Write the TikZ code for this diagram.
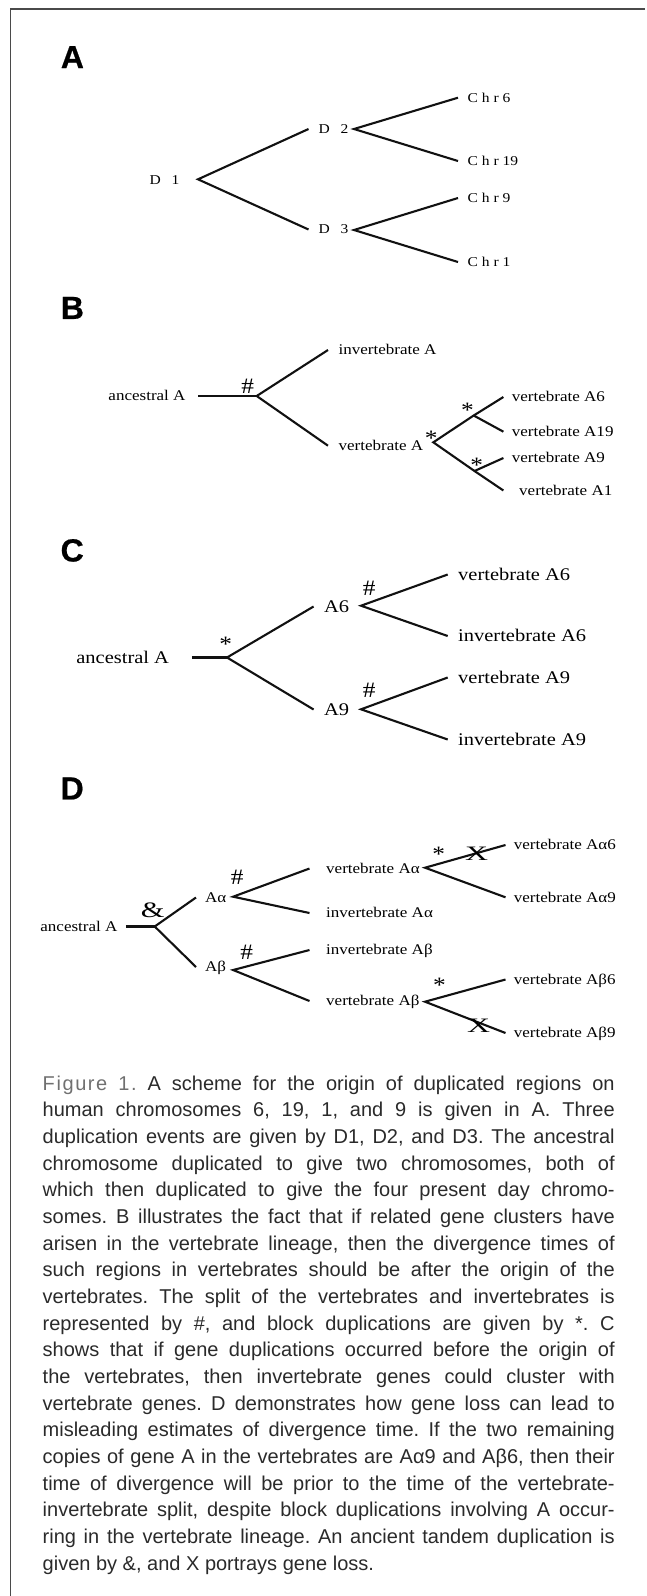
\documentclass[tikz,border=0pt]{standalone}
\usepackage{graphicx}
\usepackage{fontspec}
\setmainfont{Liberation Serif}
\newfontfamily\lblfont{Liberation Serif}[FakeStretch=1.15]
\newfontfamily\capfont{Liberation Sans}
\newfontfamily\figfont{Liberation Sans}[LetterSpace=8]
\newfontfamily\headfont{Liberation Sans}[BoldFeatures={FakeBold=0.6}]
\definecolor{Frame}{HTML}{4A4A4A}
\definecolor{Ink}{HTML}{111111}
\definecolor{CapGray}{HTML}{2A2A2A}
\definecolor{FigGray}{HTML}{707070}

\newcommand{\capline}[1]{\hbox to 572pt{#1}\par}

\tikzset{
  frame/.style={Frame,line width=1.4pt},
  branch/.style={Ink,line width=2.1pt},
  panel/.style={font=\headfont\bfseries\fontsize{32}{34}\selectfont,inner sep=0pt,text height=22.9pt,text depth=0pt},
  chrlbl/.style={font=\lblfont\fontsize{13.5}{15}\selectfont,inner sep=0pt,anchor=west,text height=8.9pt,text depth=0pt},
  lbl/.style={font=\lblfont\fontsize{14.8}{16}\selectfont,inner sep=0pt,anchor=west,text height=9.8pt,text depth=0pt},
  lblbig/.style={font=\lblfont\fontsize{17.8}{20}\selectfont,inner sep=0pt,anchor=west,text height=11.8pt,text depth=0pt},
  sym/.style={font=\lblfont\fontsize{22}{24}\selectfont,inner sep=0pt,text height=14.9pt,text depth=0pt},
  astk/.style={sym,yshift=-3.6pt},
  lossx/.style={sym,font=\lblfont\fontsize{20.5}{22}\selectfont,text height=13.6pt},
  captext/.style={font=\capfont\fontsize{20}{26.67}\selectfont\frenchspacing,CapGray,inner sep=0pt,text width=572pt}
}

\begin{document}
\begin{tikzpicture}[x=1pt,y=-1pt]
\useasboundingbox (0,0) rectangle (647,1596);
\draw[frame] (10.5,1596) -- (10.5,9) -- (645,9);

% panel A: chromosome duplications
\node[panel] (labA) at (72.4,56.7) {A};
\node[chrlbl,anchor=east] (d1) at (179.5,180) {D\hspace{.8em}1};
\coordinate (d1v) at (198,179.3);
\node[chrlbl] (d2) at (318.5,129) {D\hspace{.8em}2};
\coordinate (d2v) at (354,129);
\node[chrlbl] (d3) at (318.5,229.5) {D\hspace{.8em}3};
\coordinate (d3v) at (354,230);
\node[chrlbl] (chr6) at (467.5,97.7) {C h r 6};
\node[chrlbl] (chr19) at (467.5,161) {C h r 19};
\node[chrlbl] (chr9) at (467.5,198) {C h r 9};
\node[chrlbl] (chr1) at (467.5,262) {C h r 1};
\draw[branch] ([xshift=-10pt]d2.west) -- (d1v) -- ([xshift=-10pt]d3.west);
\draw[branch] ([xshift=-9.5pt]chr6.west) -- (d2v) -- ([xshift=-9.5pt]chr19.west);
\draw[branch] ([xshift=-9.5pt]chr9.west) -- (d3v) -- ([xshift=-9.5pt]chr1.west);

% panel B
\node[panel] (labB) at (72.4,307.5) {B};
\node[lbl,anchor=east] (ancB) at (185.7,396) {ancestral A};
\coordinate (splB) at (256.7,396);
\node[sym] (hashB) at (247.6,386) {\#};
\node[lbl] (invB) at (338.4,350) {invertebrate A};
\node[lbl] (vertB) at (338.4,445.7) {vertebrate A};
\coordinate (vB) at (433.3,442.3);
\node[astk] (astB) at (431.2,434) {*};
\coordinate (vB6) at (473.7,415.5);
\coordinate (vB9) at (474.5,471);
\node[astk] (astB6) at (467.5,406.7) {*};
\node[astk] (astB9) at (476.6,461.7) {*};
\node[lbl] (vA6) at (511.7,397) {vertebrate A6};
\node[lbl] (vA19) at (511.7,431.7) {vertebrate A19};
\node[lbl] (vA9) at (511.7,458) {vertebrate A9};
\node[lbl] (vA1) at (519,490.5) {vertebrate A1};
\draw[branch] ([xshift=12.3pt]ancB.east) -- (splB);
\draw[branch] ([xshift=-10.4pt]invB.west) -- (splB) -- ([xshift=-10.4pt]vertB.west);
\draw[branch] ([xshift=-8.3pt]vA6.west) -- (vB6) -- (vB) -- (vB9) -- ([xshift=-15.6pt]vA1.west);
\draw[branch] (vB6) -- ([xshift=-8.3pt]vA19.west);
\draw[branch] (vB9) -- ([xshift=-8.3pt]vA9.west);

% panel C
\node[panel] (labC) at (72.2,550) {C};
\node[lblbig,anchor=east] (ancC) at (169.2,657.5) {ancestral A};
\coordinate (splC) at (227,657.5);
\node[astk] (astC) at (225.7,640) {*};
\node[lblbig] (a6) at (323.9,606.5) {A6};
\node[lblbig] (a9) at (323.9,709.5) {A9};
\coordinate (a6v) at (361,605.7);
\coordinate (a9v) at (361,709.3);
\node[sym] (hashC6) at (369.3,587.7) {\#};
\node[sym] (hashC9) at (369.3,690) {\#};
\node[lblbig] (vC6) at (458,574.5) {vertebrate A6};
\node[lblbig] (iC6) at (458,636) {invertebrate A6};
\node[lblbig] (vC9) at (458,677.5) {vertebrate A9};
\node[lblbig] (iC9) at (458,739.5) {invertebrate A9};
\draw[branch] ([xshift=22.7pt]ancC.east) -- (splC);
\draw[branch] ([xshift=-10.3pt]a6.west) -- (splC) -- ([xshift=-10.3pt]a9.west);
\draw[branch] ([xshift=-10.3pt]vC6.west) -- (a6v) -- ([xshift=-10.3pt]iC6.west);
\draw[branch] ([xshift=-10.3pt]vC9.west) -- (a9v) -- ([xshift=-10.3pt]iC9.west);

% panel D
\node[panel] (labD) at (72.2,788) {D};
\node[lbl,anchor=east] (ancD) at (117.6,926.5) {ancestral A};
\coordinate (splD) at (154.7,926.5);
\node[sym] (ampD) at (152.7,910) {\scalebox{1.2}[1]{\&}};
\node[lbl] (aal) at (205,897.5) {Aα};
\node[lbl] (abe) at (205,967) {Aβ};
\coordinate (aalv) at (233.1,896.7);
\coordinate (abev) at (233.1,970);
\node[sym] (hashDa) at (237.3,876.7) {\#};
\node[sym] (hashDb) at (246.8,951.7) {\#};
\node[lbl] (vAal) at (326,868.5) {vertebrate Aα};
\node[lbl] (iAal) at (326,913) {invertebrate Aα};
\node[lbl] (iAbe) at (326,950) {invertebrate Aβ};
\node[lbl] (vAbe) at (326,1001) {vertebrate Aβ};
\coordinate (vAalv) at (425,867.7);
\coordinate (vAbev) at (425,1001.7);
\node[astk] (astDa) at (438.6,850) {*};
\node[astk] (astDb) at (439.4,981.7) {*};
\node[lbl] (vAa6) at (513.7,845) {vertebrate Aα6};
\node[lbl] (vAa9) at (513.7,897.3) {vertebrate Aα9};
\node[lbl] (vAb6) at (513.7,979.5) {vertebrate Aβ6};
\node[lbl] (vAb9) at (513.7,1033) {vertebrate Aβ9};
\draw[branch] ([xshift=8.3pt]ancD.east) -- (splD);
\draw[branch] ([xshift=-9pt]aal.west) -- (splD) -- ([xshift=-9pt]abe.west);
\draw[branch] ([xshift=-16.5pt]vAal.west) -- (aalv) -- ([xshift=-16.5pt]iAal.west);
\draw[branch] ([xshift=-16.5pt]iAbe.west) -- (abev) -- ([xshift=-16.5pt]vAbe.west);
\draw[branch] ([xshift=-8.2pt]vAa6.west) -- (vAalv) -- ([xshift=-8.2pt]vAa9.west);
\draw[branch] ([xshift=-8.2pt]vAb6.west) -- (vAbev) -- ([xshift=-8.2pt]vAb9.west);
\node[lossx] (lossa) at (476.6,853.5) {\scalebox{1.35}[1]{X}};
\node[lossx] (lossb) at (478.6,1025.5) {\scalebox{1.35}[1]{X}};

% caption
\node[captext,anchor=north west] (caption) at (42.5,1075.5) {%
\spaceskip=0.278em plus 1em minus 0.09em\relax\xspaceskip=\spaceskip
\capline{{\figfont\color{FigGray}Figure 1.}\hspace{0.55em}A scheme for the origin of duplicated regions on}
\capline{human chromosomes 6, 19, 1, and 9 is given in A. Three}
\capline{duplication events are given by D1, D2, and D3. The ancestral}
\capline{chromosome duplicated to give two chromosomes, both of}
\capline{which then duplicated to give the four present day chromo-}
\capline{somes. B illustrates the fact that if related gene clusters have}
\capline{arisen in the vertebrate lineage, then the divergence times of}
\capline{such regions in vertebrates should be after the origin of the}
\capline{vertebrates. The split of the vertebrates and invertebrates is}
\capline{represented by \#, and block duplications are given by *. C}
\capline{shows that if gene duplications occurred before the origin of}
\capline{the vertebrates, then invertebrate genes could cluster with}
\capline{vertebrate genes. D demonstrates how gene loss can lead to}
\capline{misleading estimates of divergence time. If the two remaining}
\capline{copies of gene A in the vertebrates are Aα9 and Aβ6, then their}
\capline{time of divergence will be prior to the time of the vertebrate-}
\capline{invertebrate split, despite block duplications involving A occur-}
\capline{ring in the vertebrate lineage. An ancient tandem duplication is}
\hbox{given by \&, and X portrays gene loss.}};
\end{tikzpicture}
\end{document}
